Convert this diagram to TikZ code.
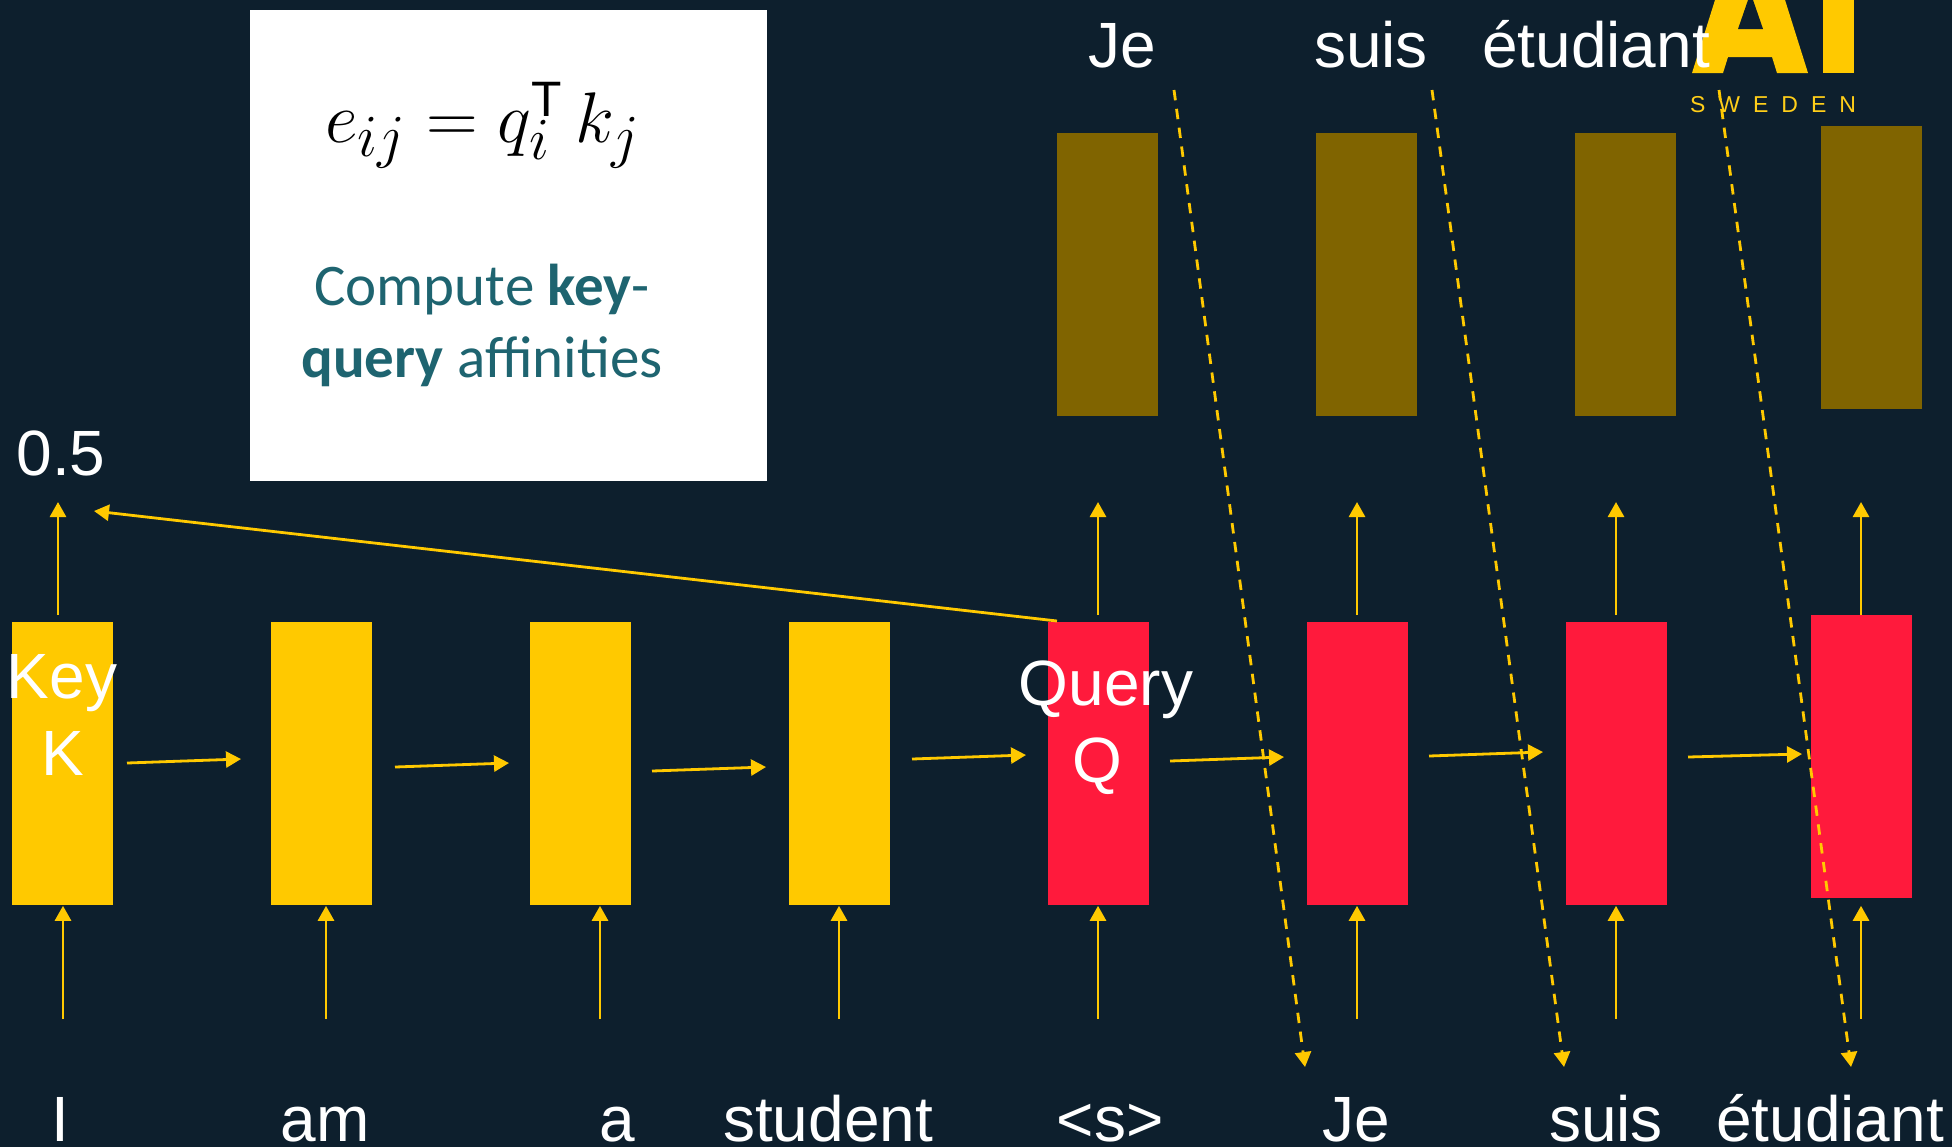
\documentclass[tikz,border=0pt]{standalone}
\usepackage{fontspec}
\setmainfont{Liberation Sans}
\newfontfamily\calibrifont{Carlito}
\usetikzlibrary{arrows.meta}
\definecolor{bgnavy}{HTML}{0D1F2D}
\definecolor{aiyellow}{HTML}{FFC900}
\definecolor{aired}{HTML}{FF1A3C}
\definecolor{aibrown}{HTML}{806400}
\definecolor{tealtext}{HTML}{1E6470}
\tikzset{
    barnode/.style={inner sep=0pt,minimum width=50.5pt,minimum height=141.5pt,anchor=north west},
    wordnode/.style={anchor=base,text=white,inner sep=0pt,font=\fontsize{32}{38}\selectfont},
    flow/.style={draw=aiyellow,line width=1.4pt,->},
    crossflow/.style={flow,dash pattern=on 5.2pt off 4.3pt},
}
\begin{document}
\begin{tikzpicture}[x=0.5pt,y=-0.5pt,>={Triangle[length=7.5pt,width=8pt]}]
            \useasboundingbox[fill=bgnavy] (0,0) rectangle (1952,1147);

            % logo
            \fill[aiyellow] (1692,73) -- (1715,0) -- (1785,0) -- (1808,73) -- (1777,73) -- (1772,57)
                -- (1728,57) -- (1723,73) -- cycle;
            \fill[bgnavy] (1738,29) -- (1763,29) -- (1753,0) -- (1748,0) -- cycle;
            \fill[aiyellow] (1823,0) rectangle (1854,73);
            \node[anchor=base,inner sep=0pt,text=aiyellow!90!white,font=\fontsize{11.5}{13}\selectfont] (logotext) at (1773,112)
                {S\hspace{6.5pt}W\hspace{6.5pt}E\hspace{6.5pt}D\hspace{6.5pt}E\hspace{6.5pt}N};

            % white panel
            \node[fill=white,inner sep=0pt,minimum width=258.5pt,minimum height=235.5pt,anchor=north west] (panel) at (250,10) {};
            \node[inner sep=0pt,text=black,scale=1.44] (formula) at (483,125)
                {\Huge\(e_{ij}=q_i^{\scriptscriptstyle\mathrm{T}}\,k_j\)};
            \node[inner sep=0pt,text=tealtext,align=center,font=\calibrifont\fontsize{29.5}{36}\selectfont] (caption) at (482,325)
                {Compute \textbf{key}-\\\textbf{query} affinities};

            % bars
            \foreach \x [count=\i] in {12,271,530,789}
                {\node[barnode,fill=aiyellow] (enc\i) at (\x,622) {};}
            \foreach \x/\y [count=\i] in {1048/622,1307/622,1566/622,1811/615}
                {\node[barnode,fill=aired] (dec\i) at (\x,\y) {};}
            \foreach \x/\y [count=\i] in {1057/133,1316/133,1575/133,1821/126}
                {\node[barnode,fill=aibrown] (out\i) at (\x,\y) {};}

            % words
            \node[wordnode] (w1) at (60,1141) {I};
            \node[wordnode] (w2) at (325,1141) {am};
            \node[wordnode] (w3) at (617,1141) {a};
            \node[wordnode] (w4) at (828,1141) {student};
            \node[wordnode] (w5) at (1110,1141) {<s>};
            \node[wordnode] (w6) at (1356,1141) {Je};
            \node[wordnode] (w7) at (1606,1141) {suis};
            \node[wordnode] (w8) at (1830,1141) {étudiant};
            \node[wordnode] (t1) at (1122,67) {Je};
            \node[wordnode] (t2) at (1371,67) {suis};
            \node[wordnode] (t3) at (1596,67) {étudiant};
            \node[wordnode] (score) at (61,475) {0.5};
            \node[wordnode] (keyname) at (62,698) {Key};
            \node[wordnode] (keyletter) at (63,775) {K};
            \node[wordnode] (queryname) at (1106,705) {Query};
            \node[wordnode] (queryletter) at (1097,782) {Q};

            % arrows into the bars
            \foreach \x [count=\i] in {63,326,600,839,1098,1357,1616,1861}
                {\coordinate (up\i) at (\x,1019);
                 \draw[flow] (up\i) -- (up\i |- enc1.south);}

            % arrows out of the bars
            \coordinate (k1) at (58,615);   \coordinate (k2) at (58,502);
            \draw[flow] (k1) -- (k2);
            \foreach \x/\y [count=\i] in {1098/615,1357/615,1616/615,1861/615}
                {\coordinate (a\i) at (\x,\y);
                 \coordinate (b\i) at (\x,502);
                 \draw[flow] (a\i) -- (b\i);}

            % arrows along the row
            \coordinate (r1) at (127,763);   \coordinate (s1) at (241,759);
            \coordinate (r2) at (395,767);   \coordinate (s2) at (509,763);
            \coordinate (r3) at (652,771);   \coordinate (s3) at (766,767);
            \coordinate (r4) at (912,759);   \coordinate (s4) at (1026,755);
            \coordinate (r5) at (1170,761);  \coordinate (s5) at (1284,757);
            \coordinate (r6) at (1429,756);  \coordinate (s6) at (1543,752);
            \coordinate (r7) at (1688,757);  \coordinate (s7) at (1802,754);
            \foreach \i in {1,...,7}
                {\draw[flow] (r\i) -- (s\i);}

            % affinity
            \coordinate (affinity) at (94,511);
            \draw[flow] (dec1.north west) ++(9,-1) -- (affinity);

            % dashed arrows
            \coordinate (d1) at (1174,90);   \coordinate (e1) at (1305,1067);
            \coordinate (d2) at (1432,90);   \coordinate (e2) at (1564,1067);
            \coordinate (d3) at (1719,90);   \coordinate (e3) at (1851,1067);
            \foreach \i in {1,2,3}
                {\draw[crossflow] (d\i) -- (e\i);}
\end{tikzpicture}
\end{document}
